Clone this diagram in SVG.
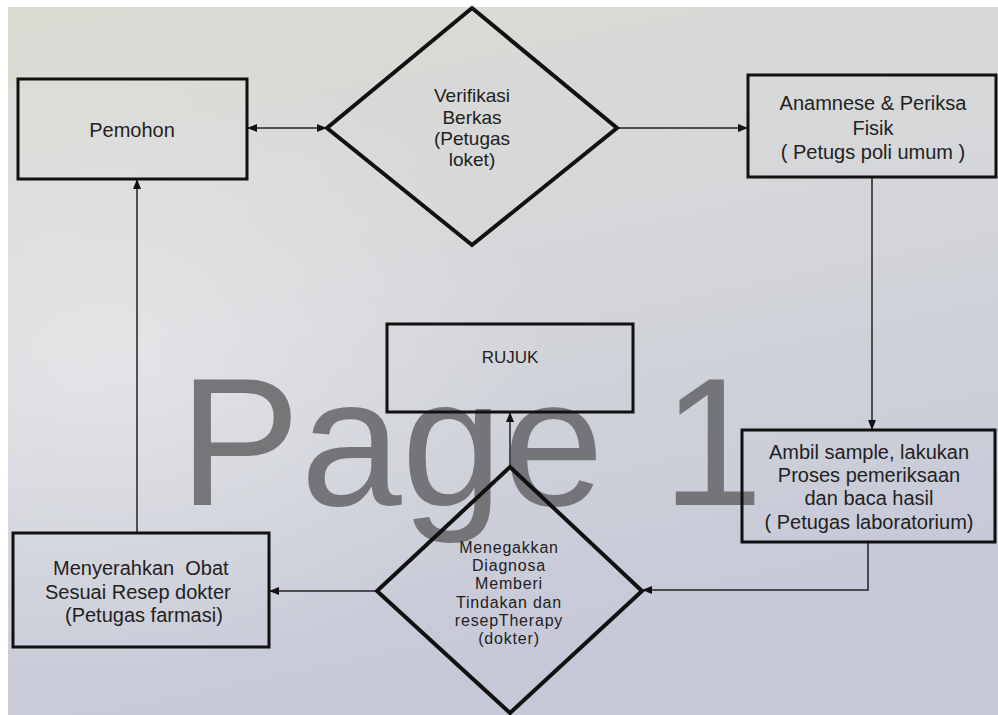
<svg xmlns="http://www.w3.org/2000/svg" width="998" height="715" viewBox="0 0 998 715">
<defs>
<linearGradient id="bg" x1="0" y1="0" x2="0.3" y2="1">
<stop offset="0" stop-color="#dcdcd4"/>
<stop offset="0.5" stop-color="#d4d6da"/>
<stop offset="1" stop-color="#c6c8d8"/>
</linearGradient>
<radialGradient id="glow" cx="0.1" cy="0.5" r="0.45">
<stop offset="0" stop-color="#ffffff" stop-opacity="0.35"/>
<stop offset="1" stop-color="#ffffff" stop-opacity="0"/>
</radialGradient>
<marker id="ah" viewBox="0 0 10 8" refX="10" refY="4" markerWidth="10" markerHeight="8" markerUnits="userSpaceOnUse" orient="auto-start-reverse">
<path d="M0,0 L10,4 L0,8 z" fill="#111"/>
</marker>
<style>
.box{fill:none;stroke:#111;stroke-width:3}
.dia{fill:none;stroke:#111;stroke-width:4;stroke-linejoin:miter}
.t{font-family:"Liberation Sans",Arial,sans-serif;font-size:20px;fill:#222;text-anchor:middle}
.conn{fill:none;stroke:#222;stroke-width:1.5}
.wm{font-family:"Liberation Sans",Arial,sans-serif;font-size:182px;fill:#6a6a6e;fill-opacity:0.9}
</style>
</defs>
<rect x="0" y="0" width="998" height="715" fill="#ffffff"/>
<rect x="8" y="7" width="990" height="708" fill="url(#bg)"/>
<rect x="8" y="7" width="990" height="708" fill="url(#glow)"/>
<g id="watermark">
<text class="wm" x="179" y="505">Page</text>
<text class="wm" x="662" y="505">1</text>
</g>
<g id="connectors">
<line class="conn" x1="247" y1="128" x2="327" y2="128" marker-start="url(#ah)" marker-end="url(#ah)"/>
<line class="conn" x1="617" y1="128" x2="748" y2="128" marker-end="url(#ah)"/>
<line class="conn" x1="872" y1="177" x2="872" y2="430" marker-end="url(#ah)"/>
<path class="conn" d="M868,542 V590 H642" marker-end="url(#ah)"/>
<line class="conn" x1="510" y1="467" x2="510" y2="412" marker-end="url(#ah)"/>
<line class="conn" x1="377" y1="591" x2="269" y2="591" marker-end="url(#ah)"/>
<line class="conn" x1="137" y1="533" x2="137" y2="179" marker-end="url(#ah)"/>
</g>
<g id="pemohon">
<rect class="box" x="18" y="79" width="229" height="100"/>
<text class="t" x="132" y="137">Pemohon</text>
</g>
<g id="verifikasi">
<polygon class="dia" points="472,8 617,128 472,245 327,128"/>
<text class="t" style="font-size:19px" x="472" y="102">Verifikasi</text>
<text class="t" style="font-size:19px" x="472" y="124">Berkas</text>
<text class="t" style="font-size:19px" x="472" y="145">(Petugas</text>
<text class="t" style="font-size:19px" x="472" y="166">loket)</text>
</g>
<g id="anamnese">
<rect class="box" x="748" y="75" width="248" height="102"/>
<text class="t" x="873" y="110">Anamnese &amp; Periksa</text>
<text class="t" x="873" y="135">Fisik</text>
<text class="t" x="873" y="159">( Petugs poli umum )</text>
</g>
<g id="ambil">
<rect class="box" x="742" y="430" width="253" height="112"/>
<text class="t" x="869" y="459">Ambil sample, lakukan</text>
<text class="t" x="869" y="482">Proses pemeriksaan</text>
<text class="t" x="869" y="505">dan baca hasil</text>
<text class="t" x="869" y="529">( Petugas laboratorium)</text>
</g>
<g id="rujuk">
<rect class="box" x="387" y="324" width="246" height="88"/>
<text class="t" style="font-size:17px" x="510" y="363">RUJUK</text>
</g>
<g id="diagnosa">
<polygon class="dia" points="510,467 642,591 510,713 377,591"/>
<g class="t" style="font-size:16px;letter-spacing:0.8px">
<text class="t" style="font-size:16px;letter-spacing:0.8px" x="509" y="553">Menegakkan</text>
<text class="t" style="font-size:16px;letter-spacing:0.8px" x="509" y="571">Diagnosa</text>
<text class="t" style="font-size:16px;letter-spacing:0.8px" x="509" y="589">Memberi</text>
<text class="t" style="font-size:16px;letter-spacing:0.8px" x="509" y="608">Tindakan dan</text>
<text class="t" style="font-size:16px;letter-spacing:0.8px" x="509" y="626">resepTherapy</text>
<text class="t" style="font-size:16px;letter-spacing:0.8px" x="509" y="644">(dokter)</text>
</g>
</g>
<g id="menyerahkan">
<rect class="box" x="13" y="533" width="256" height="114"/>
<text class="t" style="text-anchor:start" x="53" y="575" xml:space="preserve">Menyerahkan  Obat</text>
<text class="t" style="text-anchor:start" x="45" y="599">Sesuai Resep dokter</text>
<text class="t" style="text-anchor:start" x="65" y="622">(Petugas farmasi)</text>
</g>
</svg>
